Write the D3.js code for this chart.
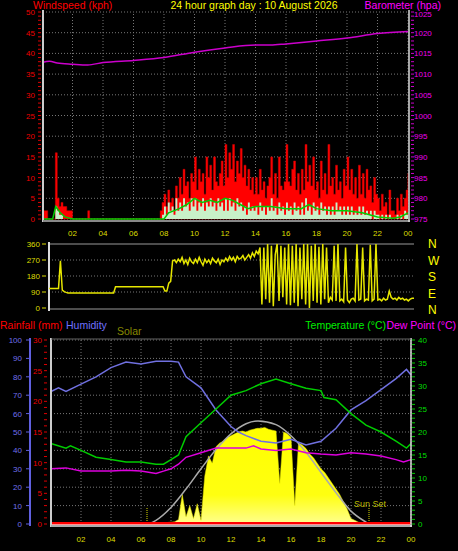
<!DOCTYPE html>
<html><head><meta charset="utf-8">
<script src="https://cdn.jsdelivr.net/npm/d3@7"></script>
<style>body{margin:0;background:#000}svg{display:block;font-family:"Liberation Sans",Arial,sans-serif}</style>
</head><body><div id="chart"></div>
<script>
// ── Data (8 samples per hour for wind, 4 per hour for solar) ─────────────
const gust = [
  0,2,2,0,0,0,0,16, 5,3,4,3,3,2,2,2, 0,0,0,0,0,0,0,0, 2,0,0,0,0,0,0,0,
  0,0,0,0,0,0,0,0, 0,0,0,0,0,0,0,0, 0,0,0,0,0,0,0,0, 0,0,0,0,0,0,2,4,
  6,3,7,4,5,2,8,5, 10,6,12,8,9,5,11,9, 15,7,12,9,11,6,15,10, 13,7,15,9,8,11,14,8,
  18,10,16,12,18,9,14,11, 17,10,13,8,12,7,10,6, 10,6,12,7,9,5,8,10, 15,6,11,5,15,8,7,9,
  18,9,8,12,14,7,11,6, 12,7,18,9,13,8,15,7, 9,5,14,7,11,6,18,8, 10,6,13,7,9,5,12,8,
  15,7,12,6,10,5,13,6, 11,5,12,7,8,4,10,6, 5,2,6,3,4,1,7,2, 2,1,5,2,6,3,5,7, 11];
const avgWind = [
  0,0,0,0,0,0,0,3, 2,1,1,0,0,0,0,0, 0,0,0,0,0,0,0,0, 0,0,0,0,0,0,0,0,
  0,0,0,0,0,0,0,0, 0,0,0,0,0,0,0,0, 0,0,0,0,0,0,0,0, 0,0,0,0,0,0,0,1,
  3,1,4,2,3,1,5,2, 4,2,5,3,4,2,5,3, 5,2,4,3,5,2,4,3, 5,3,4,2,5,3,4,2,
  5,2,5,3,4,2,5,3, 4,2,3,1,4,2,3,2, 3,1,4,2,3,1,3,2, 5,2,3,1,4,2,3,1,
  4,2,3,1,4,2,3,1, 4,1,5,2,3,1,4,2, 3,1,4,2,3,1,3,1, 3,1,4,2,3,1,3,1,
  3,1,3,1,2,1,3,1, 3,1,2,1,2,0,2,1, 1,0,1,0,1,0,1,0, 0,0,1,0,1,0,2,1, 3];
const windLineT = [0,0.7,0.9,1.2,1.5,2,8,8.3,9,9.5,10,10.5,11,11.5,12,12.5,13,13.5,14,15,16,17,17.5,18,19,20,21,22,23,23.5,24];
const windLineV = [0,0,3,1.5,0.5,0,0,1.5,2.5,3.5,5,4,4.5,4,5,4.5,3.5,2.5,3,3,2.5,2.5,3.5,2.5,2,2,1.5,0.5,0.2,0.5,1.5];
const baroT = [0,0.5,1,2,3,4,6,8,10,12,14,15,16,18,20,22,24];
const baroV = [1012.8,1013.1,1012.7,1012.4,1012.2,1012.8,1013.3,1014,1015.3,1016.3,1017,1017,1017.3,1018,1018.7,1019.8,1020.3];
const windDir = [
  110,110,110,110,110,110,265,100, 92,88,85,85,85,85,85,85, 85,85,85,85,85,85,85,85, 85,85,85,85,85,85,85,85,
  85,85,85,120,120,120,120,120, 120,120,120,120,120,120,120,120, 120,120,120,120,120,120,120,120, 120,120,120,120,120,95,95,140,
  150,265,270,255,275,260,285,250, 270,245,280,260,250,275,255,285, 260,240,275,255,270,250,280,265, 255,275,245,270,260,280,265,290,
  270,285,260,290,275,280,295,270, 285,300,280,310,290,320,305,340, 20,340,50,360,30,350,10,300, 360,40,350,60,340,20,360,15,
  350,30,360,10,340,50,360,20, 360,0,350,40,360,30,345,20, 360,50,340,30,60,45,350,40, 360,40,50,35,340,45,30,50,
  55,40,360,45,50,340,40,50, 45,355,40,50,360,45,50,40, 55,45,50,95,60,50,55,45, 60,50,55,45,50,40,50,55, 55];
const humT = [0,0.5,1,2,3,4,5,6,7,8,8.5,9,10,11,12,12.5,13,14,15,16,17,18,19,20,21,22,23,23.7,24];
const humV = [72,74,72,76,80,85,88,87,88.5,88.5,88,80,74,62,53,50,48,45,44,46,43,45,52,62,67,73,79,84,81];
const tempT = [0,1,1.3,2,3,4,5,6,7,7.5,8,8.5,9,10,11,12,13,14,15,16,17,18,18.2,19,20,21,22,23,23.7,24];
const tempV = [17.5,16.5,17,16,14.5,14,13.5,13.5,13,13,14,15,19,22,25,28,29,30.5,31.5,30.5,29.5,29,27.5,27,24,21.5,20,18,16.5,17.5];
const dewT = [0,1,2,3,4,5,6,7,7.5,8,8.5,9,10,11,12,13,13.5,14,15,16,17,18,19,20,21,22,23,23.5,24];
const dewV = [12,12.2,11.5,11.5,11.5,11.7,11.5,11,11.5,12,13,14.5,15.5,16.5,16.5,16.5,17,16.3,16,16.3,15.5,15.2,15,15.5,15.2,14.8,14,13.5,14];
const solarT0 = 6; // solar samples start at 06:00, 4 per hour
const solar = [0,0,2,3, 4,5,6,8, 10,12,25,160, 40,100,30,110, 20,260,370,330,
  420,440,450,470, 480,490,500,505, 500,510,515,520, 520,525,515,510, 505,220,500,490,
  470,100,440,430, 410,380,360,330, 300,280,250,220, 190,160,120,80, 30,20,10,5, 0];
const solarMaxT = [6.5,7,8,9,10,11,12,13,13.8,15,16,17,18,19,20,21,21.2];
const solarMaxV = [0,20,90,190,300,405,490,545,560,540,480,390,280,170,70,10,0];
const rainT = [0,24];
const rainV = [0,0];
const sunRise = 6.4, sunSet = 21.2;
const hourTicks = [2,4,6,8,10,12,14,16,18,20,22,24];
const fmtHour = h => String(h % 24).padStart(2, "0");

const svg = d3.select("#chart").append("svg").attr("width", 458).attr("height", 551)
  .style("background", "#000");

function grid(g, x, y, yTicks, x0, x1) {
  g.selectAll(".hg").data(yTicks).join("line").attr("class", "hg")
    .attr("x1", x0).attr("x2", x1).attr("y1", d => y(d)).attr("y2", d => y(d))
    .attr("stroke", "#777").attr("stroke-dasharray", "1,2");
  g.selectAll(".vg").data(hourTicks).join("line").attr("class", "vg")
    .attr("x1", d => x(d)).attr("x2", d => x(d)).attr("y1", y.range()[0]).attr("y2", y.range()[1])
    .attr("stroke", "#777").attr("stroke-dasharray", "1,2");
}

// ── Top panel: wind + barometer ─────────────────────────────────────────
const xT = d3.scaleLinear().domain([0, 24]).range([42, 408]);
const yW = d3.scaleLinear().domain([0, 50]).range([219, 12]);
const yB = d3.scaleLinear().domain([975, 1025]).range([219, 12]);
const topG = svg.append("g");
grid(topG, xT, yW, d3.range(0, 51, 5), 43, 409);

const t8 = (d, i) => xT(i / 8);
topG.append("path").datum(gust)
  .attr("d", d3.area().x(t8).y0(yW(0)).y1(d => yW(d)).curve(d3.curveStepAfter))
  .attr("fill", "#ff0000").attr("stroke", "#cc0000").attr("stroke-width", 0.5);
topG.append("path").datum(avgWind)
  .attr("d", d3.area().x(t8).y0(yW(0)).y1(d => yW(d)).curve(d3.curveStepAfter))
  .attr("fill", "#c8f0c8");
topG.append("path").datum(windLineT.map((t, i) => [t, windLineV[i]]))
  .attr("d", d3.line().x(d => xT(d[0])).y(d => yW(d[1])))
  .attr("fill", "none").attr("stroke", "#00cc00").attr("stroke-width", 1.5);
topG.append("path").datum(baroT.map((t, i) => [t, baroV[i]]))
  .attr("d", d3.line().x(d => xT(d[0])).y(d => yB(d[1])).curve(d3.curveMonotoneX))
  .attr("fill", "none").attr("stroke", "#cc00cc").attr("stroke-width", 1.5);

topG.append("line").attr("x1", 43).attr("x2", 43).attr("y1", 10).attr("y2", 222).attr("stroke", "#ccc").attr("stroke-width", 2);
topG.append("line").attr("x1", 43).attr("x2", 410).attr("y1", 221).attr("y2", 221).attr("stroke", "#888").attr("stroke-width", 2);
topG.append("line").attr("x1", 409).attr("x2", 409).attr("y1", 10).attr("y2", 222).attr("stroke", "#ddd").attr("stroke-width", 1.5);

const lAx = topG.append("g").attr("transform", "translate(38,0)");
lAx.selectAll("line").data(d3.range(0, 51, 1)).join("line")
  .attr("x1", 0).attr("x2", 3).attr("y1", d => yW(d)).attr("y2", d => yW(d)).attr("stroke", "#d00");
lAx.selectAll("text").data(d3.range(0, 51, 5)).join("text")
  .attr("x", -3).attr("y", d => yW(d) + 3).attr("text-anchor", "end")
  .attr("fill", "#e00").attr("font-size", 8).text(d => d);
const rAx = topG.append("g").attr("transform", "translate(411,0)");
rAx.selectAll("line").data(d3.range(975, 1026, 1)).join("line")
  .attr("x1", 0).attr("x2", 3).attr("y1", d => yB(d)).attr("y2", d => yB(d)).attr("stroke", "#c0c");
rAx.selectAll("text").data(d3.range(975, 1026, 5)).join("text")
  .attr("x", 3).attr("y", d => yB(d) + (d === 1025 ? 5 : 3)).attr("fill", "#e0e").attr("font-size", 8).text(d => d);
topG.selectAll(".hl").data(hourTicks).join("text").attr("class", "hl")
  .attr("x", d => xT(d)).attr("y", 236).attr("text-anchor", "middle")
  .attr("fill", "#dddd00").attr("font-size", 8).text(fmtHour);

svg.append("text").attr("x", 33).attr("y", 9).attr("fill", "#f00").attr("font-size", 10.5).text("Windspeed (kph)");
svg.append("text").attr("x", 254).attr("y", 9).attr("text-anchor", "middle").attr("fill", "#ff0").attr("font-size", 10.5).text("24 hour graph day : 10 August 2026");
svg.append("text").attr("x", 441).attr("y", 9).attr("text-anchor", "end").attr("fill", "#f0f").attr("font-size", 10.5).text("Barometer (hpa)");

// ── Wind direction panel ────────────────────────────────────────────────
const xD = d3.scaleLinear().domain([0, 24]).range([49, 414]);
const yD = d3.scaleLinear().domain([0, 360]).range([308, 244]);
const dir = svg.append("g");
dir.selectAll("line.g").data([90, 180, 270]).join("line")
  .attr("x1", 49).attr("x2", 414).attr("y1", d => yD(d)).attr("y2", d => yD(d))
  .attr("stroke", "#777").attr("stroke-dasharray", "1,2");
dir.append("line").attr("x1", 49).attr("x2", 414).attr("y1", 244).attr("y2", 244).attr("stroke", "#999");
dir.append("line").attr("x1", 49).attr("x2", 414).attr("y1", 309).attr("y2", 309).attr("stroke", "#999");
dir.append("line").attr("x1", 49).attr("x2", 49).attr("y1", 242).attr("y2", 311).attr("stroke", "#ddd").attr("stroke-width", 2);
dir.append("path").datum(windDir)
  .attr("d", d3.line().x((d, i) => xD(i / 8)).y(d => yD(d)))
  .attr("fill", "none").attr("stroke", "#e6e600").attr("stroke-width", 1.5);
dir.selectAll("text.l").data([0, 90, 180, 270, 360]).join("text")
  .attr("x", 40).attr("y", d => yD(d) + 3).attr("text-anchor", "end")
  .attr("fill", "#dddd00").attr("font-size", 8).text(d => d);
dir.selectAll("line.t").data([0, 90, 180, 270, 360]).join("line")
  .attr("x1", 42).attr("x2", 46).attr("y1", d => yD(d)).attr("y2", d => yD(d)).attr("stroke", "#dd0");
dir.selectAll("text.c").data(["N", "W", "S", "E", "N"]).join("text")
  .attr("x", 428).attr("y", (d, i) => 248 + i * 16.5)
  .attr("fill", "#ff0").attr("font-size", 12).text(d => d);

// ── Bottom panel: temp, dew, humidity, solar, rain ──────────────────────
const xB = d3.scaleLinear().domain([0, 24]).range([51, 411]);
const yH = d3.scaleLinear().domain([0, 100]).range([524, 340]);
const yR = d3.scaleLinear().domain([0, 30]).range([524, 340]);
const yTp = d3.scaleLinear().domain([0, 40]).range([524, 340]);
const yS = d3.scaleLinear().domain([0, 1000]).range([524, 340]);
const bot = svg.append("g");
grid(bot, xB, yH, d3.range(0, 101, 10), 51, 411);

const grad = svg.append("defs").append("linearGradient").attr("id", "sol")
  .attr("x1", 0).attr("x2", 0).attr("y1", 0).attr("y2", 1);
grad.append("stop").attr("offset", "0%").attr("stop-color", "#ffff00");
grad.append("stop").attr("offset", "70%").attr("stop-color", "#ffff10");
grad.append("stop").attr("offset", "100%").attr("stop-color", "#ffff90");
bot.append("path").datum(solar)
  .attr("d", d3.area().x((d, i) => xB(solarT0 + i / 4)).y0(yS(0)).y1(d => yS(d)))
  .attr("fill", "url(#sol)").attr("stroke", "#e0e000").attr("stroke-width", 0.5);
bot.append("path").datum(solarMaxT.map((t, i) => [t, solarMaxV[i]]))
  .attr("d", d3.line().x(d => xB(d[0])).y(d => yS(d[1])).curve(d3.curveMonotoneX))
  .attr("fill", "none").attr("stroke", "#aaa").attr("stroke-width", 1.5);
[sunRise, sunSet].forEach(t => bot.append("line")
  .attr("x1", xB(t)).attr("x2", xB(t)).attr("y1", 508).attr("y2", 524)
  .attr("stroke", "#dd0").attr("stroke-dasharray", "1,1"));
bot.append("text").attr("x", xB(sunSet) - 15).attr("y", 507).attr("fill", "#bbbb00").attr("font-size", 9).text("Sun Set");

const ln = (T, V, y) => d3.line().x((d, i) => xB(T[i])).y(d => y(d))(V);
bot.append("path").attr("d", ln(humT, humV, yH)).attr("fill", "none").attr("stroke", "#7070e0").attr("stroke-width", 1.5);
bot.append("path").attr("d", ln(tempT, tempV, yTp)).attr("fill", "none").attr("stroke", "#00cc00").attr("stroke-width", 1.5);
bot.append("path").attr("d", ln(dewT, dewV, yTp)).attr("fill", "none").attr("stroke", "#dd00dd").attr("stroke-width", 1.5);
bot.append("rect").attr("x", 52).attr("y", 522).attr("width", 358).attr("height", 3).attr("fill", "#ff9090");
bot.append("path").attr("d", ln(rainT, rainV, yR)).attr("fill", "none").attr("stroke", "#f00").attr("stroke-width", 2)
  .attr("transform", "translate(0,-1)");

bot.append("line").attr("x1", 51).attr("x2", 51).attr("y1", 338).attr("y2", 527).attr("stroke", "#ccc").attr("stroke-width", 2);
bot.append("line").attr("x1", 51).attr("x2", 412).attr("y1", 526).attr("y2", 526).attr("stroke", "#aaa").attr("stroke-width", 2);
bot.append("line").attr("x1", 411).attr("x2", 411).attr("y1", 338).attr("y2", 527).attr("stroke", "#ddd").attr("stroke-width", 1.5);
bot.append("line").attr("x1", 51).attr("x2", 411).attr("y1", 339).attr("y2", 339).attr("stroke", "#666");

// humidity axis
bot.append("line").attr("x1", 30).attr("x2", 30).attr("y1", 338).attr("y2", 526).attr("stroke", "#6060e0").attr("stroke-width", 2);
bot.selectAll("text.h").data(d3.range(0, 101, 10)).join("text")
  .attr("x", 22).attr("y", d => yH(d) + 3).attr("text-anchor", "end")
  .attr("fill", "#7070ee").attr("font-size", 8).text(d => d);
bot.selectAll("line.ht").data(d3.range(0, 101, 10)).join("line")
  .attr("x1", 26).attr("x2", 30).attr("y1", d => yH(d)).attr("y2", d => yH(d)).attr("stroke", "#6060e0");
// rain axis
bot.selectAll("text.r").data(d3.range(0, 31, 5)).join("text")
  .attr("x", 42).attr("y", d => yR(d) + 3).attr("text-anchor", "end")
  .attr("fill", "#e00").attr("font-size", 8).text(d => d);
bot.selectAll("line.rt").data(d3.range(0, 31, 1)).join("line")
  .attr("x1", 44).attr("x2", 47).attr("y1", d => yR(d)).attr("y2", d => yR(d)).attr("stroke", "#d00");
// temperature axis
bot.selectAll("line.tt").data(d3.range(0, 41, 1)).join("line")
  .attr("x1", 412).attr("x2", 415).attr("y1", d => yTp(d)).attr("y2", d => yTp(d)).attr("stroke", "#0c0");
bot.selectAll("text.t").data(d3.range(0, 41, 5)).join("text")
  .attr("x", 418).attr("y", d => yTp(d) + 3).attr("fill", "#0d0").attr("font-size", 8).text(d => d);
bot.selectAll("text.hl").data(hourTicks).join("text")
  .attr("x", d => xB(d)).attr("y", 542).attr("text-anchor", "middle")
  .attr("fill", "#dddd00").attr("font-size", 8).text(fmtHour);

svg.append("text").attr("x", 0).attr("y", 329).attr("fill", "#f00").attr("font-size", 10.5).text("Rainfall (mm)");
svg.append("text").attr("x", 66).attr("y", 329).attr("fill", "#7070ff").attr("font-size", 10.5).text("Humidity");
svg.append("text").attr("x", 117).attr("y", 335).attr("fill", "#888800").attr("font-size", 10.5).text("Solar");
svg.append("text").attr("x", 386).attr("y", 329).attr("text-anchor", "end").attr("fill", "#0e0").attr("font-size", 10.5).text("Temperature (°C)");
svg.append("text").attr("x", 456).attr("y", 329).attr("text-anchor", "end").attr("fill", "#f0f").attr("font-size", 10.5).text("Dew Point (°C)");
</script></body></html>
